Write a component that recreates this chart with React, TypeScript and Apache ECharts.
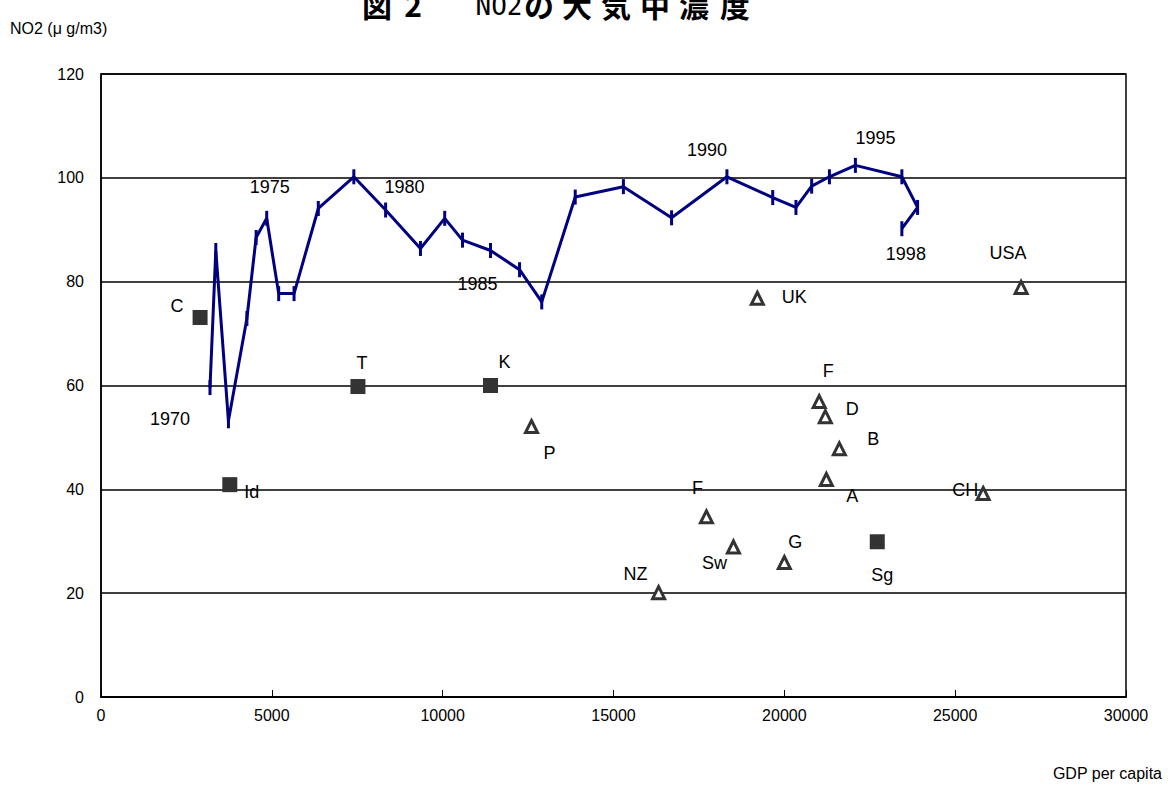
import React, { useEffect, useRef } from "react";
import * as echarts from "echarts";

// ---- data ----
const years = [1970, 1971, 1972, 1973, 1974, 1975, 1976, 1977, 1978, 1979, 1980, 1981, 1982, 1983, 1984, 1985, 1986, 1987, 1988, 1989, 1990, 1991, 1992, 1993, 1994, 1995, 1996, 1997, 1998];
const yearGdp = [3190, 3360, 3730, 4270, 4540, 4850, 5200, 5650, 6360, 7400, 8330, 9350, 10060, 10580, 11400, 12250, 12900, 13880, 15290, 16700, 18320, 19660, 20340, 20800, 21320, 22080, 23440, 23900, 23440];
const yearNo2 = [59.6, 86, 53.2, 72.9, 88.5, 92.2, 77.7, 77.7, 94.1, 100.2, 93.8, 86.4, 92.2, 88, 86, 82.3, 76.1, 96.3, 98.3, 92.3, 100.2, 96.2, 94.3, 98.4, 100.2, 102.4, 100.2, 94.3, 90.2];

const squareNames = ["C", "T", "K", "Id", "Sg"];
const squareGdp = [2900, 7520, 11400, 3770, 22720];
const squareNo2 = [73.1, 59.8, 60, 40.9, 29.9];

const triangleNames = ["UK", "USA", "F", "D", "B", "A", "P", "F", "Sw", "G", "NZ", "CH"];
const triangleGdp = [19210, 26930, 21020, 21200, 21610, 21230, 12600, 17720, 18510, 20000, 16320, 25820];
const triangleNo2 = [76.8, 78.9, 56.9, 54, 47.8, 41.9, 52.1, 34.7, 28.9, 25.9, 20.1, 39.2];

const xTicks = { min: 0, max: 30000, interval: 5000 };
const yTicks = { min: 0, max: 120, interval: 20 };

const titleChars = ["図", "2", "NO2", "の", "大", "気", "中", "濃", "度"];

// ---- layout (label offsets, px) ----
const yearLabelOffsets: Record<number, [number, number]> = {
  1970: [-40, 31],
  1975: [3, -31],
  1980: [19, -23],
  1985: [-42, 14],
  1990: [-20, -27],
  1995: [20, -27],
  1998: [4, 25],
};
const squareLabelOffsets: [number, number][] = [[-23, -11], [4, -24], [14, -24], [22, 7], [5, 33]];
const triangleLabelOffsets: [number, number][] = [
  [37, -1], [-13, -34], [9, -31], [27, -8], [34, -10], [26, 17],
  [18, 26], [-9, -29], [-19, 16], [11, -21], [-23, -19], [-18, -3],
];
const titleCenters = [377, 413, 499, 539, 577, 616, 655, 694, 735];

const FONT = "'Liberation Sans', Arial, sans-serif";
const CJK = "'Noto Sans CJK JP', sans-serif";

export default function App() {
  const ref = useRef<HTMLDivElement>(null);
  useEffect(() => {
    if (!ref.current) return;
    const chart = echarts.init(ref.current, null, { renderer: "svg" });

    const labelBase = {
      show: true,
      position: "inside",
      color: "#000",
      fontSize: 18,
      fontFamily: FONT,
      textBorderWidth: 0,
      align: "center",
      verticalAlign: "middle",
    };

    const lineData = yearGdp.map((g, i) => {
      const off = yearLabelOffsets[years[i]];
      return {
        value: [g, yearNo2[i]],
        label: off ? { ...labelBase, formatter: String(years[i]), offset: off } : { show: false },
      };
    });
    const squareData = squareGdp.map((g, i) => ({
      name: squareNames[i],
      value: [g, squareNo2[i]],
      label: { ...labelBase, formatter: squareNames[i], offset: squareLabelOffsets[i] },
    }));
    const triangleData = triangleGdp.map((g, i) => ({
      name: triangleNames[i],
      value: [g, triangleNo2[i]],
      label: { ...labelBase, formatter: triangleNames[i], offset: triangleLabelOffsets[i] },
    }));

    const titleGraphics = titleChars.map((c, i) => ({
      type: "text",
      x: titleCenters[i],
      y: i === 2 ? 6 : 4,
      style: {
        text: c,
        fill: "#000",
        font: i === 2 ? "normal 26px 'DejaVu Sans Mono', monospace" : `bold 30px ${CJK}`,
        textAlign: "center",
        textVerticalAlign: "middle",
      },
    }));

    chart.setOption({
      animation: false,
      backgroundColor: "#fff",
      grid: {
        left: 101,
        top: 74,
        width: 1025,
        height: 623,
        show: true,
        borderColor: "#000",
        borderWidth: 1.5,
        backgroundColor: "transparent",
      },
      graphic: [
        ...titleGraphics,
        {
          type: "text",
          x: 10,
          y: 28,
          style: {
            text: "NO2 (μ g/m3)",
            fill: "#000",
            font: `16px ${FONT}`,
            textAlign: "left",
            textVerticalAlign: "middle",
          },
        },
        {
          type: "text",
          x: 1162,
          y: 773,
          style: {
            text: "GDP per capita",
            fill: "#000",
            font: `16px ${FONT}`,
            textAlign: "right",
            textVerticalAlign: "middle",
          },
        },
      ],
      xAxis: {
        type: "value",
        min: xTicks.min,
        max: xTicks.max,
        interval: xTicks.interval,
        axisLine: { show: true, lineStyle: { color: "#000", width: 1.5 } },
        axisTick: { show: true, inside: true, length: 7, lineStyle: { color: "#000", width: 1 } },
        splitLine: { show: false },
        axisLabel: {
          color: "#000",
          fontSize: 16,
          fontFamily: FONT,
          margin: 10,
          formatter: (v: number) => String(v),
        },
      },
      yAxis: {
        type: "value",
        min: yTicks.min,
        max: yTicks.max,
        interval: yTicks.interval,
        axisLine: { show: true, lineStyle: { color: "#000", width: 1.5 } },
        axisTick: { show: false },
        splitLine: { show: true, lineStyle: { color: "#000", width: 1.5 } },
        axisLabel: { color: "#000", fontSize: 16, fontFamily: FONT, margin: 17 },
      },
      series: [
        {
          type: "line",
          data: lineData,
          showAllSymbol: true,
          symbol: "rect",
          symbolSize: [3, 15],
          lineStyle: { color: "#000080", width: 3 },
          itemStyle: { color: "#000080" },
          z: 3,
        },
        {
          type: "scatter",
          data: squareData,
          symbol: "rect",
          symbolSize: 15,
          itemStyle: { color: "#333333", opacity: 1 },
          z: 4,
        },
        {
          type: "scatter",
          data: triangleData,
          symbol: "triangle",
          symbolSize: 12,
          itemStyle: { color: "#ffffff", borderColor: "#333333", borderWidth: 3, opacity: 1 },
          z: 4,
        },
      ],
    });
    return () => chart.dispose();
  }, []);
  return (
    <div
      ref={ref}
      style={{ position: "fixed", left: 0, top: 0, width: 1168, height: 785, background: "#fff" }}
    />
  );
}
